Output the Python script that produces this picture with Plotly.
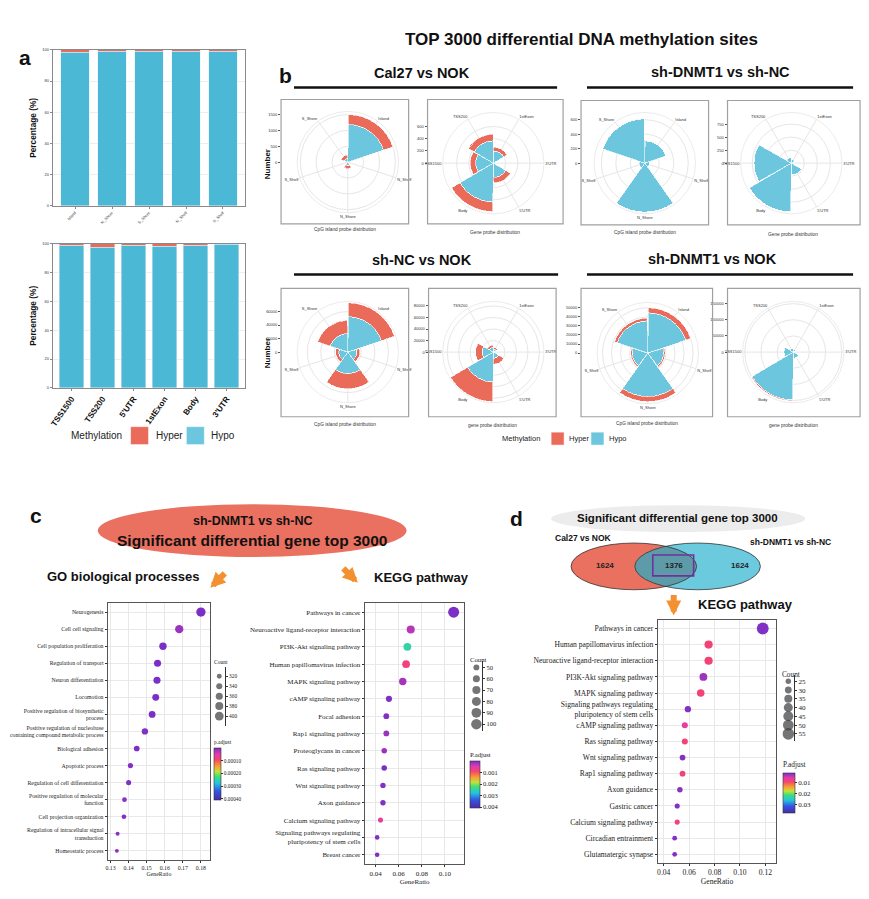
import numpy as np
import plotly.graph_objects as go

W, H = 869, 899
OFF = 8  # page body margin compensation
def fx(px): return (px - OFF) / W
def fy(py): return 1 - (py - OFF) / H
def dx(a, b): return [fx(a), fx(b)]
def dy(top, bottom): return [fy(bottom), fy(top)]

RED = "#EB6B5B"; BLUE_A = "#4BB8D5"; BLUE_P = "#6CC6DD"
SANS = "Liberation Sans"; SERIF = "Liberation Serif"

# ---------------- data ----------------
# Panel a (percentages)
a_cpg_regions = ["Island", "N_Shore", "S_Shore", "N_Shelf", "S_Shelf"]
a_cpg_hyper = [1.6, 0.9, 0.8, 0.9, 0.8]
a_cpg_hypo = [98.4, 99.1, 99.2, 99.1, 99.2]
a_gene_regions = ["TSS1500", "TSS200", "5'UTR", "1stExon", "Body", "3'UTR"]
a_gene_hyper = [1.0, 2.4, 1.2, 1.6, 1.1, 0.5]
a_gene_hypo = [99.0, 97.6, 98.8, 98.4, 98.9, 99.5]
pct_ticks = [0, 20, 40, 60, 80, 100]
methylation_groups = ["Hyper", "Hypo"]

# Panel b (probe counts)
cpg_cats = ["Island", "N_Shelf", "N_Shore", "S_Shelf", "S_Shore"]
gene_cats = ["1stExon", "3'UTR", "5'UTR", "Body", "TSS1500", "TSS200"]

cal27_cpg_hypo = [1190, 15, 110, 15, 120]
cal27_cpg_hyper = [310, 5, 95, 5, 100]
cal27_gene_hypo = [200, 40, 235, 637, 287, 365]
cal27_gene_hyper = [60, 10, 89, 157, 89, 110]
shd_shnc_cpg_hypo = [309, 63, 677, 76, 613]
shd_shnc_cpg_hyper = [1, 0, 2, 0, 1]
shd_shnc_gene_hypo = [70, 40, 230, 937, 719, 110]
shd_shnc_gene_hyper = [0, 0, 1, 2, 1, 0]
shnc_nok_cpg_hypo = [52400, 13300, 31900, 13300, 27600]
shnc_nok_cpg_hyper = [20500, 4300, 22400, 4800, 19400]
shnc_nok_gene_hypo = [5600, 1500, 11000, 52000, 19500, 8400]
shnc_nok_gene_hyper = [2800, 500, 10000, 34000, 11200, 3900]
shd_nok_cpg_hypo = [44400, 17500, 48000, 17200, 35700]
shd_nok_cpg_hyper = [5600, 1700, 5600, 1700, 3000]
shd_nok_gene_hypo = [8000, 3000, 20000, 148000, 29000, 12000]
shd_nok_gene_hyper = [300, 100, 500, 3000, 800, 300]

cal27_cpg_ticks = [0, 500, 1000, 1500]
cal27_gene_ticks = [0, 200, 400, 600]
shd_shnc_cpg_ticks = [0, 200, 400, 600]
shd_shnc_gene_ticks = [0, 250, 500, 750]
shnc_nok_cpg_ticks = [0, 20000, 40000, 60000]
shnc_nok_gene_ticks = [0, 20000, 40000, 60000, 80000]
shd_nok_cpg_ticks = [0, 10000, 20000, 30000, 40000, 50000]
shd_nok_gene_ticks = [0, 50000, 100000, 150000]

# Panel c - GO
go_terms = ["Neurogenesis", "Cell cell signaling", "Cell population proliferation",
            "Regulation of transport", "Neuron differentiation", "Locomotion",
            "Positive regulation of biosynthetic<br>process",
            "Positive regulation of nucleobase<br>containing compound metabolic process",
            "Biological adhesion", "Apoptotic process", "Regulation of cell differentiation",
            "Positive regulation of molecular<br>function", "Cell projection organization",
            "Regulation of intracellular signal<br>transduction", "Homeostatic process"]
go_ratio = [0.1800, 0.1680, 0.1590, 0.1560, 0.1557, 0.1550, 0.1530, 0.1490,
            0.1445, 0.1410, 0.1400, 0.1377, 0.1374, 0.1339, 0.1335]
go_count = [415, 388, 367, 360, 359, 357, 353, 344, 333, 325, 323, 318, 317, 309, 308]
go_padj = [2e-9, 1.6e-5, 3e-8, 1e-7, 2e-7, 1e-7, 3e-7, 2e-6, 1e-6, 4e-6, 3e-6, 6e-6, 5e-6, 7e-6, 8e-6]
go_ticks = [0.13, 0.14, 0.15, 0.16, 0.17, 0.18]
go_count_legend = [320, 340, 360, 380, 400]
go_padj_ticks = [0.0001, 0.0002, 0.0003, 0.0004]

# Panel c - KEGG
kc_terms = ["Pathways in cancer", "Neuroactive ligand-receptor interaction",
            "PI3K-Akt signaling pathway", "Human papillomavirus infection",
            "MAPK signaling pathway", "cAMP signaling pathway", "Focal adhesion",
            "Rap1 signaling pathway", "Proteoglycans in cancer", "Ras signaling pathway",
            "Wnt signaling pathway", "Axon guidance", "Calcium signaling pathway",
            "Signaling pathways regulating<br>pluripotency of stem cells", "Breast cancer"]
kc_ratio = [0.1075, 0.0704, 0.0675, 0.0664, 0.0635, 0.0516, 0.0493, 0.0493,
            0.0475, 0.0475, 0.0464, 0.0464, 0.0443, 0.0414, 0.0414]
kc_count = [107, 70, 67, 66, 63, 52, 49, 49, 47, 47, 46, 46, 44, 41, 41]
kc_padj = [0.00001, 0.00029, 0.0025, 0.00082, 0.0002, 0.00003, 0.00004, 0.00016,
           0.00015, 0.00001, 0.00003, 0.00003, 0.00057, 0.00003, 0.00002]
kc_ticks = [0.04, 0.06, 0.08, 0.10]
kc_count_legend = [50, 60, 70, 80, 90, 100]
kc_padj_ticks = [0.001, 0.002, 0.003, 0.004]

# Panel d - Venn and KEGG
venn_left_only = 1624
venn_overlap = 1376
venn_right_only = 1624
kd_terms = ["Pathways in cancer", "Human papillomavirus infection",
            "Neuroactive ligand-receptor interaction", "PI3K-Akt signaling pathway",
            "MAPK signaling pathway",
            "Signaling pathways regulating<br>pluripotency of stem cells",
            "cAMP signaling pathway", "Ras signaling pathway", "Wnt signaling pathway",
            "Rap1 signaling pathway", "Axon guidance", "Gastric cancer",
            "Calcium signaling pathway", "Circadian entrainment", "Glutamatergic synapse"]
kd_ratio = [0.1179, 0.0753, 0.0753, 0.0712, 0.0691, 0.0590, 0.0566, 0.0566,
            0.0548, 0.0548, 0.0527, 0.0506, 0.0506, 0.0486, 0.0486]
kd_count = [57, 36, 36, 34, 33, 28, 27, 27, 26, 26, 25, 24, 24, 23, 23]
kd_padj = [0.001, 0.0085, 0.0085, 0.0023, 0.0085, 0.0012, 0.0064, 0.0085,
           0.0012, 0.0085, 0.0015, 0.0012, 0.0085, 0.0012, 0.0012]
kd_ticks = [0.04, 0.06, 0.08, 0.10, 0.12]
kd_count_legend = [25, 30, 35, 40, 45, 50, 55]
kd_padj_ticks = [0.01, 0.02, 0.03]

# ---------------- figure ----------------
fig = go.Figure()
layout = {}
annotations = []
shapes = []

def txt(x, y, text, size, bold=False, family=SANS, color="#111", angle=0, xanchor="center"):
    annotations.append(dict(x=fx(x), y=fy(y), xref="paper", yref="paper", text=text,
                            showarrow=False, textangle=angle, xanchor=xanchor, yanchor="middle",
                            font=dict(family=family, size=size, color=color,
                                      weight="bold" if bold else "normal")))

def manual_legend(title_x, y, key, keys_x, text_dx, size):
    """Methylation legend: title + coloured keys (key = square side in px)."""
    txt(title_x, y, "Methylation", size, color="#222")
    for grp, kx, col in zip(methylation_groups, keys_x, [RED, BLUE_P]):
        shapes.append(dict(type="rect", xref="paper", yref="paper", x0=fx(kx), x1=fx(kx + key),
                           y0=fy(y + key / 2), y1=fy(y - key / 2), fillcolor=col,
                           line=dict(color="white", width=0.5)))
        txt(kx + key + text_dx, y, grp, size, color="#222", xanchor="left")

# ---- Panel a ----
fig.add_trace(go.Bar(x=a_cpg_regions, y=a_cpg_hypo, marker_color=BLUE_A, showlegend=False,
                     xaxis="x", yaxis="y", hoverinfo="skip"))
fig.add_trace(go.Bar(x=a_cpg_regions, y=a_cpg_hyper, marker_color=RED, showlegend=False,
                     xaxis="x", yaxis="y", hoverinfo="skip"))
fig.add_trace(go.Bar(x=a_gene_regions, y=a_gene_hypo, marker_color=BLUE_A, showlegend=False,
                     xaxis="x2", yaxis="y2", hoverinfo="skip"))
fig.add_trace(go.Bar(x=a_gene_regions, y=a_gene_hyper, marker_color=RED, showlegend=False,
                     xaxis="x2", yaxis="y2", hoverinfo="skip"))

frame = dict(showline=True, mirror=True, linecolor="#8a8a8a", linewidth=1)
layout["xaxis"] = dict(domain=dx(50, 243), anchor="y", range=[-0.6, 4.6], tickangle=-45,
                       tickfont=dict(size=4, color="#444", family=SANS), ticks="outside",
                       ticklen=2, tickcolor="#888", showgrid=False, **frame)
layout["yaxis"] = dict(domain=dy(47, 204), anchor="x", range=[0, 100], tickvals=pct_ticks,
                       tickfont=dict(size=4, color="#335", family=SANS), ticks="outside",
                       ticklen=2, tickcolor="#888", gridcolor="#eeeeee", zeroline=False,
                       title=dict(text="Percentage (%)", standoff=4,
                                  font=dict(size=8.3, family=SANS, weight="bold", color="#111")),
                       **frame)
layout["xaxis2"] = dict(domain=dx(50, 243), anchor="y2", range=[-0.6, 5.6], tickangle=-55,
                        tickfont=dict(size=8.2, color="#111", family=SANS, weight="bold"),
                        ticks="outside", ticklen=2, tickcolor="#888", showgrid=False, **frame)
layout["yaxis2"] = dict(domain=dy(242, 387), anchor="x2", range=[0, 100], tickvals=pct_ticks,
                        tickfont=dict(size=4, color="#335", family=SANS), ticks="outside",
                        ticklen=2, tickcolor="#888", gridcolor="#eeeeee", zeroline=False,
                        title=dict(text="Percentage (%)", standoff=4,
                                   font=dict(size=8.3, family=SANS, weight="bold", color="#111")),
                        **frame)
manual_legend(94, 435, 18, [128, 184], 5, 10)

# ---- Panel b polars ----
R = 51
polar_specs = [
    (cal27_cpg_hypo, cal27_cpg_hyper, cpg_cats, cal27_cpg_ticks, 1600, 346, 160, 279, 97, 407, 222),
    (cal27_gene_hypo, cal27_gene_hyper, gene_cats, cal27_gene_ticks, 830, 492, 161, 426, 97, 562, 222),
    (shd_shnc_cpg_hypo, shd_shnc_cpg_hyper, cpg_cats, shd_shnc_cpg_ticks, 700, 644, 161, 580, 98, 708, 223),
    (shd_shnc_gene_hypo, shd_shnc_gene_hyper, gene_cats, shd_shnc_gene_ticks, 975, 791, 161, 727, 98, 860, 223),
    (shnc_nok_cpg_hypo, shnc_nok_cpg_hyper, cpg_cats, shnc_nok_cpg_ticks, 75000, 346, 351, 279, 287, 407, 416),
    (shnc_nok_gene_hypo, shnc_nok_gene_hyper, gene_cats, shnc_nok_gene_ticks, 88000, 492, 351, 427, 287, 555, 416),
    (shd_nok_cpg_hypo, shd_nok_cpg_hyper, cpg_cats, shd_nok_cpg_ticks, 56000, 647, 352, 580, 287, 712, 416),
    (shd_nok_gene_hypo, shd_nok_gene_hyper, gene_cats, shd_nok_gene_ticks, 157000, 793, 351, 727, 287, 860, 416),
]
for i, (hypo, hyper, cats, ticks, rmax, cx, cy, bx0, by0, bx1, by1) in enumerate(polar_specs):
    pname = "polar" if i == 0 else f"polar{i+1}"
    fig.add_trace(go.Barpolar(theta=cats, r=hypo, subplot=pname, name="Hypo", showlegend=False,
                              marker=dict(color=BLUE_P, line=dict(color="white", width=0.6)),
                              hoverinfo="skip"))
    fig.add_trace(go.Barpolar(theta=cats, r=hyper, subplot=pname, name="Hyper", showlegend=False,
                              marker=dict(color=RED, line=dict(color="white", width=0.6)),
                              hoverinfo="skip"))
    layout[pname] = dict(
        domain=dict(x=dx(cx - R, cx + R), y=dy(cy - R, cy + R)),
        bgcolor="rgba(0,0,0,0)", bargap=0.02, barmode="stack",
        angularaxis=dict(type="category", categoryarray=cats, direction="clockwise",
                         rotation=90 - 180 / len(cats), showline=True, linecolor="#e6e6e6",
                         linewidth=0.8, gridcolor="#e6e6e6", gridwidth=0.8, ticks="",
                         tickfont=dict(size=4, color="#333", family=SANS)),
        radialaxis=dict(range=[0, rmax], tickvals=ticks, showticklabels=False, ticks="",
                        showline=False, gridcolor="#e6e6e6", gridwidth=0.8))
    shapes.append(dict(type="rect", xref="paper", yref="paper", x0=fx(bx0), x1=fx(bx1),
                       y0=fy(by1), y1=fy(by0), line=dict(color="#a0a0a0", width=1.2),
                       fillcolor="rgba(0,0,0,0)"))
    k = 9 + i
    layout[f"xaxis{k}"] = dict(domain=dx(bx0, bx0 + 1), anchor=f"y{k}", visible=False, range=[0, 1])
    layout[f"yaxis{k}"] = dict(domain=dy(cy - R, cy), anchor=f"x{k}", range=[0, rmax],
                               tickvals=ticks, tickformat="d", side="left", showgrid=False,
                               zeroline=False, showline=False, ticks="outside", ticklen=2,
                               tickcolor="#555", tickfont=dict(size=4, color="#333", family=SANS))
    fig.add_trace(go.Scatter(x=[None], y=[None], xaxis=f"x{k}", yaxis=f"y{k}",
                             showlegend=False, hoverinfo="skip"))
manual_legend(520, 438, 13, [550, 590], 3, 7.5)

# ---- dot plots ----
CSCALE = [[0.0, "#4b2aa8"], [0.17, "#3355e0"], [0.32, "#25c3e0"], [0.45, "#3de07a"],
          [0.55, "#c5e03a"], [0.65, "#f7a032"], [0.78, "#f5436e"], [0.88, "#e23cad"],
          [1.0, "#7b2fc6"]]

def dsize(counts, cmin, cmax, dmin, dmax):
    return [float(np.sqrt(dmin ** 2 + (dmax ** 2 - dmin ** 2) * (c - cmin) / (cmax - cmin)))
            for c in counts]

dot_specs = [
    dict(terms=go_terms, ratio=go_ratio, count=go_count, padj=go_padj, xt=go_ticks, xfmt="{:.2f}",
         k=3, xd=(105, 208), yd=(603, 862), xr=[0.1284, 0.1852], fs=5.8,
         sp=(300, 420, 3.2, 9.5), cb=(212, 770, 63, 7, "p.adjust", 0.00041, 0.0),
         cbt=go_padj_ticks, cbfmt="{:.5f}", leg=go_count_legend, lk=6, lxd=(211, 223),
         lyd=(668, 727), lyr=[420, 302], ltitle=(219, 663)),
    dict(terms=kc_terms, ratio=kc_ratio, count=kc_count, padj=kc_padj, xt=kc_ticks, xfmt="{:.2f}",
         k=4, xd=(363, 463), yd=(603, 866), xr=[0.0307, 0.1168], fs=7,
         sp=(35, 110, 3.5, 11.2), cb=(469, 780, 59, 10, "P.adjust", 0.0041, 0.0),
         cbt=kc_padj_ticks, cbfmt="{:.3f}", leg=kc_count_legend, lk=7, lxd=(469, 481),
         lyd=(662, 732), lyr=[106, 44.7], ltitle=(477, 660)),
    dict(terms=kd_terms, ratio=kd_ratio, count=kd_count, padj=kd_padj, xt=kd_ticks, xfmt="{:.2f}",
         k=5, xd=(657, 776), yd=(620, 865), xr=[0.0353, 0.1286], fs=7.6,
         sp=(20, 58, 3.5, 12), cb=(783, 787, 54, 12, "P.adjust", 0.038, 0.0008),
         cbt=kd_padj_ticks, cbfmt="{:.2f}", leg=kd_count_legend, lk=8, lxd=(782, 794),
         lyd=(676, 742), lyr=[59, 21.6], ltitle=(791, 675)),
]
for s in dot_specs:
    k = s["k"]
    cmin_s, cmax_s, dmin, dmax = s["sp"]
    cbx, cby, cblen, cbth, cbtitle, pmax, pmin = s["cb"]
    fig.add_trace(go.Scatter(
        x=s["ratio"], y=s["terms"], mode="markers", xaxis=f"x{k}", yaxis=f"y{k}",
        showlegend=False, hoverinfo="skip",
        marker=dict(size=dsize(s["count"], cmin_s, cmax_s, dmin, dmax),
                    color=[-p for p in s["padj"]], colorscale=CSCALE, cmin=-pmax, cmax=-pmin,
                    line=dict(width=0), opacity=1,
                    colorbar=dict(x=fx(cbx), xanchor="left", y=fy(cby), yanchor="middle",
                                  len=cblen, lenmode="pixels", thickness=cbth,
                                  thicknessmode="pixels", outlinewidth=0.6, outlinecolor="#333",
                                  tickvals=[-t for t in s["cbt"]],
                                  ticktext=[s["cbfmt"].format(t) for t in s["cbt"]],
                                  ticks="outside", ticklen=2, tickcolor="#333",
                                  tickfont=dict(family=SERIF, size=s["fs"] - 0.5, color="#222"),
                                  title=dict(text=cbtitle, side="top",
                                             font=dict(family=SERIF, size=s["fs"] - 0.3, color="#222")),
                                  xpad=0, ypad=0))))
    n = len(s["terms"])
    layout[f"xaxis{k}"] = dict(domain=dx(*s["xd"]), anchor=f"y{k}", range=s["xr"],
                               tickvals=s["xt"], ticktext=[s["xfmt"].format(t) for t in s["xt"]],
                               tickfont=dict(family=SERIF, size=s["fs"], color="#222"),
                               ticks="outside", ticklen=2, tickcolor="#333",
                               gridcolor="#e8e8e8", gridwidth=0.8, zeroline=False,
                               showline=True, mirror=True, linecolor="#555", linewidth=1,
                               title=dict(text="GeneRatio", standoff=1,
                                          font=dict(family=SERIF, size=s["fs"], color="#222")))
    layout[f"yaxis{k}"] = dict(domain=dy(*s["yd"]), anchor=f"x{k}", type="category",
                               categoryarray=s["terms"], range=[n - 0.45, -0.55],
                               tickfont=dict(family=SERIF, size=s["fs"], color="#222"),
                               ticks="outside", ticklen=2, tickcolor="#333",
                               gridcolor="#e8e8e8", gridwidth=0.8, zeroline=False,
                               showline=True, mirror=True, linecolor="#555", linewidth=1)
    lk = s["lk"]
    fig.add_trace(go.Scatter(x=[0] * len(s["leg"]), y=s["leg"], mode="markers",
                             xaxis=f"x{lk}", yaxis=f"y{lk}", showlegend=False, hoverinfo="skip",
                             marker=dict(size=dsize(s["leg"], cmin_s, cmax_s, dmin, dmax),
                                         color="#3a3a3a", line=dict(width=0))))
    layout[f"xaxis{lk}"] = dict(domain=dx(*s["lxd"]), anchor=f"y{lk}", range=[-1, 1], visible=False)
    layout[f"yaxis{lk}"] = dict(domain=dy(*s["lyd"]), anchor=f"x{lk}", range=s["lyr"],
                                tickvals=s["leg"], side="right", showgrid=False, zeroline=False,
                                showline=True, linecolor="#333", linewidth=0.6,
                                ticks="outside", ticklen=2, tickcolor="#333",
                                tickfont=dict(family=SERIF, size=s["fs"] - 0.5, color="#222"))
    txt(s["ltitle"][0], s["ltitle"][1], "Count", s["fs"] - 0.3, family=SERIF, color="#222")

# ---------------- text, shapes ----------------
txt(22, 55, "a", 21, bold=True)
txt(283, 73, "b", 21, bold=True)
txt(33, 515, "c", 21, bold=True)
txt(515, 518, "d", 21, bold=True)

txt(580, 37, "TOP 3000 differential DNA methylation sites", 17, bold=True)
txt(420, 70, "Cal27 vs NOK", 14.5, bold=True)
txt(720, 69, "sh-DNMT1 vs sh-NC", 14.5, bold=True)
txt(420, 258, "sh-NC vs NOK", 14.5, bold=True)
txt(712, 257, "sh-DNMT1 vs NOK", 14.5, bold=True)
for (x0, x1, yy) in [(292, 556, 85), (586, 853, 85), (292, 557, 273), (586, 853, 273)]:
    shapes.append(dict(type="line", xref="paper", yref="paper", x0=fx(x0), x1=fx(x1),
                       y0=fy(yy), y1=fy(yy), line=dict(color="#111", width=2.5)))
txt(265, 162, "Number", 8, bold=True, angle=-90)
txt(265, 352, "Number", 8, bold=True, angle=-90)
for (x, y, t) in [(343, 228, "CpG island probe distribution"), (494, 231, "Gene probe distribution"),
                  (644, 231, "CpG island probe distribution"), (793, 233, "Gene probe distribution"),
                  (343, 424, "CpG island probe distribution"), (491, 425, "gene probe distribution"),
                  (646, 423, "CpG island probe distribution"), (793, 425, "gene probe distribution")]:
    txt(x, y, t, 4.8, color="#333")

shapes.append(dict(type="circle", xref="paper", yref="paper", x0=fx(95), x1=fx(405),
                   y0=fy(557), y1=fy(504), fillcolor="#EA7060", line=dict(width=0), layer="below"))
txt(250, 521, "sh-DNMT1 vs sh-NC", 12.5, bold=True)
txt(250, 540, "Significant differential gene top 3000", 15.5, bold=True)
txt(120, 577, "GO biological processes", 13, bold=True)
txt(420, 578, "KEGG pathway", 13, bold=True)
ORANGE = "#F39131"
for (hx, hy, ax, ay) in [(208, 588, 16, -16), (356, 583, -16, -16), (673, 616, 0, -22)]:
    annotations.append(dict(x=fx(hx), y=fy(hy), xref="paper", yref="paper", ax=ax, ay=ay,
                            axref="pixel", ayref="pixel", showarrow=True, arrowhead=2,
                            arrowsize=0.5, arrowwidth=6, arrowcolor=ORANGE, text=""))

shapes.append(dict(type="circle", xref="paper", yref="paper", x0=fx(550), x1=fx(805),
                   y0=fy(532), y1=fy(505), fillcolor="#ECECEC", line=dict(width=0), layer="below"))
txt(677, 518, "Significant differential gene top 3000", 11.5, bold=True)
txt(582, 538, "Cal27 vs NOK", 8.5, bold=True)
txt(790, 542, "sh-DNMT1 vs sh-NC", 8.5, bold=True)
vcy, vry, vrx = 566.5, 23.5, 63
vlc, vrc = 633, 697
for (c, col) in [(vlc, "#EA7060"), (vrc, "#6CCADF")]:
    shapes.append(dict(type="circle", xref="paper", yref="paper", x0=fx(c - vrx), x1=fx(c + vrx),
                       y0=fy(vcy + vry), y1=fy(vcy - vry), fillcolor=col, line=dict(width=0)))
xm = (vlc + vrc) / 2
th = np.arccos((xm - vlc) / vrx)
t1 = np.linspace(-th, th, 40)
t2 = np.linspace(np.pi - th, np.pi + th, 40)
pts = [(vlc + vrx * np.cos(t), vcy + vry * np.sin(t)) for t in t1] + \
      [(vrc + vrx * np.cos(t), vcy - vry * np.sin(t)) for t in t2]
path = "M " + " L ".join(f"{fx(px):.5f},{fy(py):.5f}" for px, py in pts) + " Z"
shapes.append(dict(type="path", xref="paper", yref="paper", path=path, fillcolor="#5E9BA8",
                   line=dict(width=0)))
for c in (vlc, vrc):
    shapes.append(dict(type="circle", xref="paper", yref="paper", x0=fx(c - vrx), x1=fx(c + vrx),
                       y0=fy(vcy + vry), y1=fy(vcy - vry), fillcolor="rgba(0,0,0,0)",
                       line=dict(color="#333", width=0.8)))
shapes.append(dict(type="rect", xref="paper", yref="paper", x0=fx(652), x1=fx(693),
                   y0=fy(576), y1=fy(555), line=dict(color="#7030A0", width=1.6)))
txt(604, 566, str(venn_left_only), 8, bold=True, color="#222")
txt(673, 566, str(venn_overlap), 8, bold=True, color="#222")
txt(740, 566, str(venn_right_only), 8, bold=True, color="#222")
txt(745, 605, "KEGG pathway", 13, bold=True)

layout.update(dict(
    width=W, height=H, margin=dict(l=0, r=0, t=0, b=0),
    paper_bgcolor="white", plot_bgcolor="white",
    barmode="stack", bargap=0.22, showlegend=False,
    font=dict(family=SANS, color="#111"),
    annotations=annotations, shapes=shapes,
))
fig.update_layout(**layout)
fig.write_html("out.html")
